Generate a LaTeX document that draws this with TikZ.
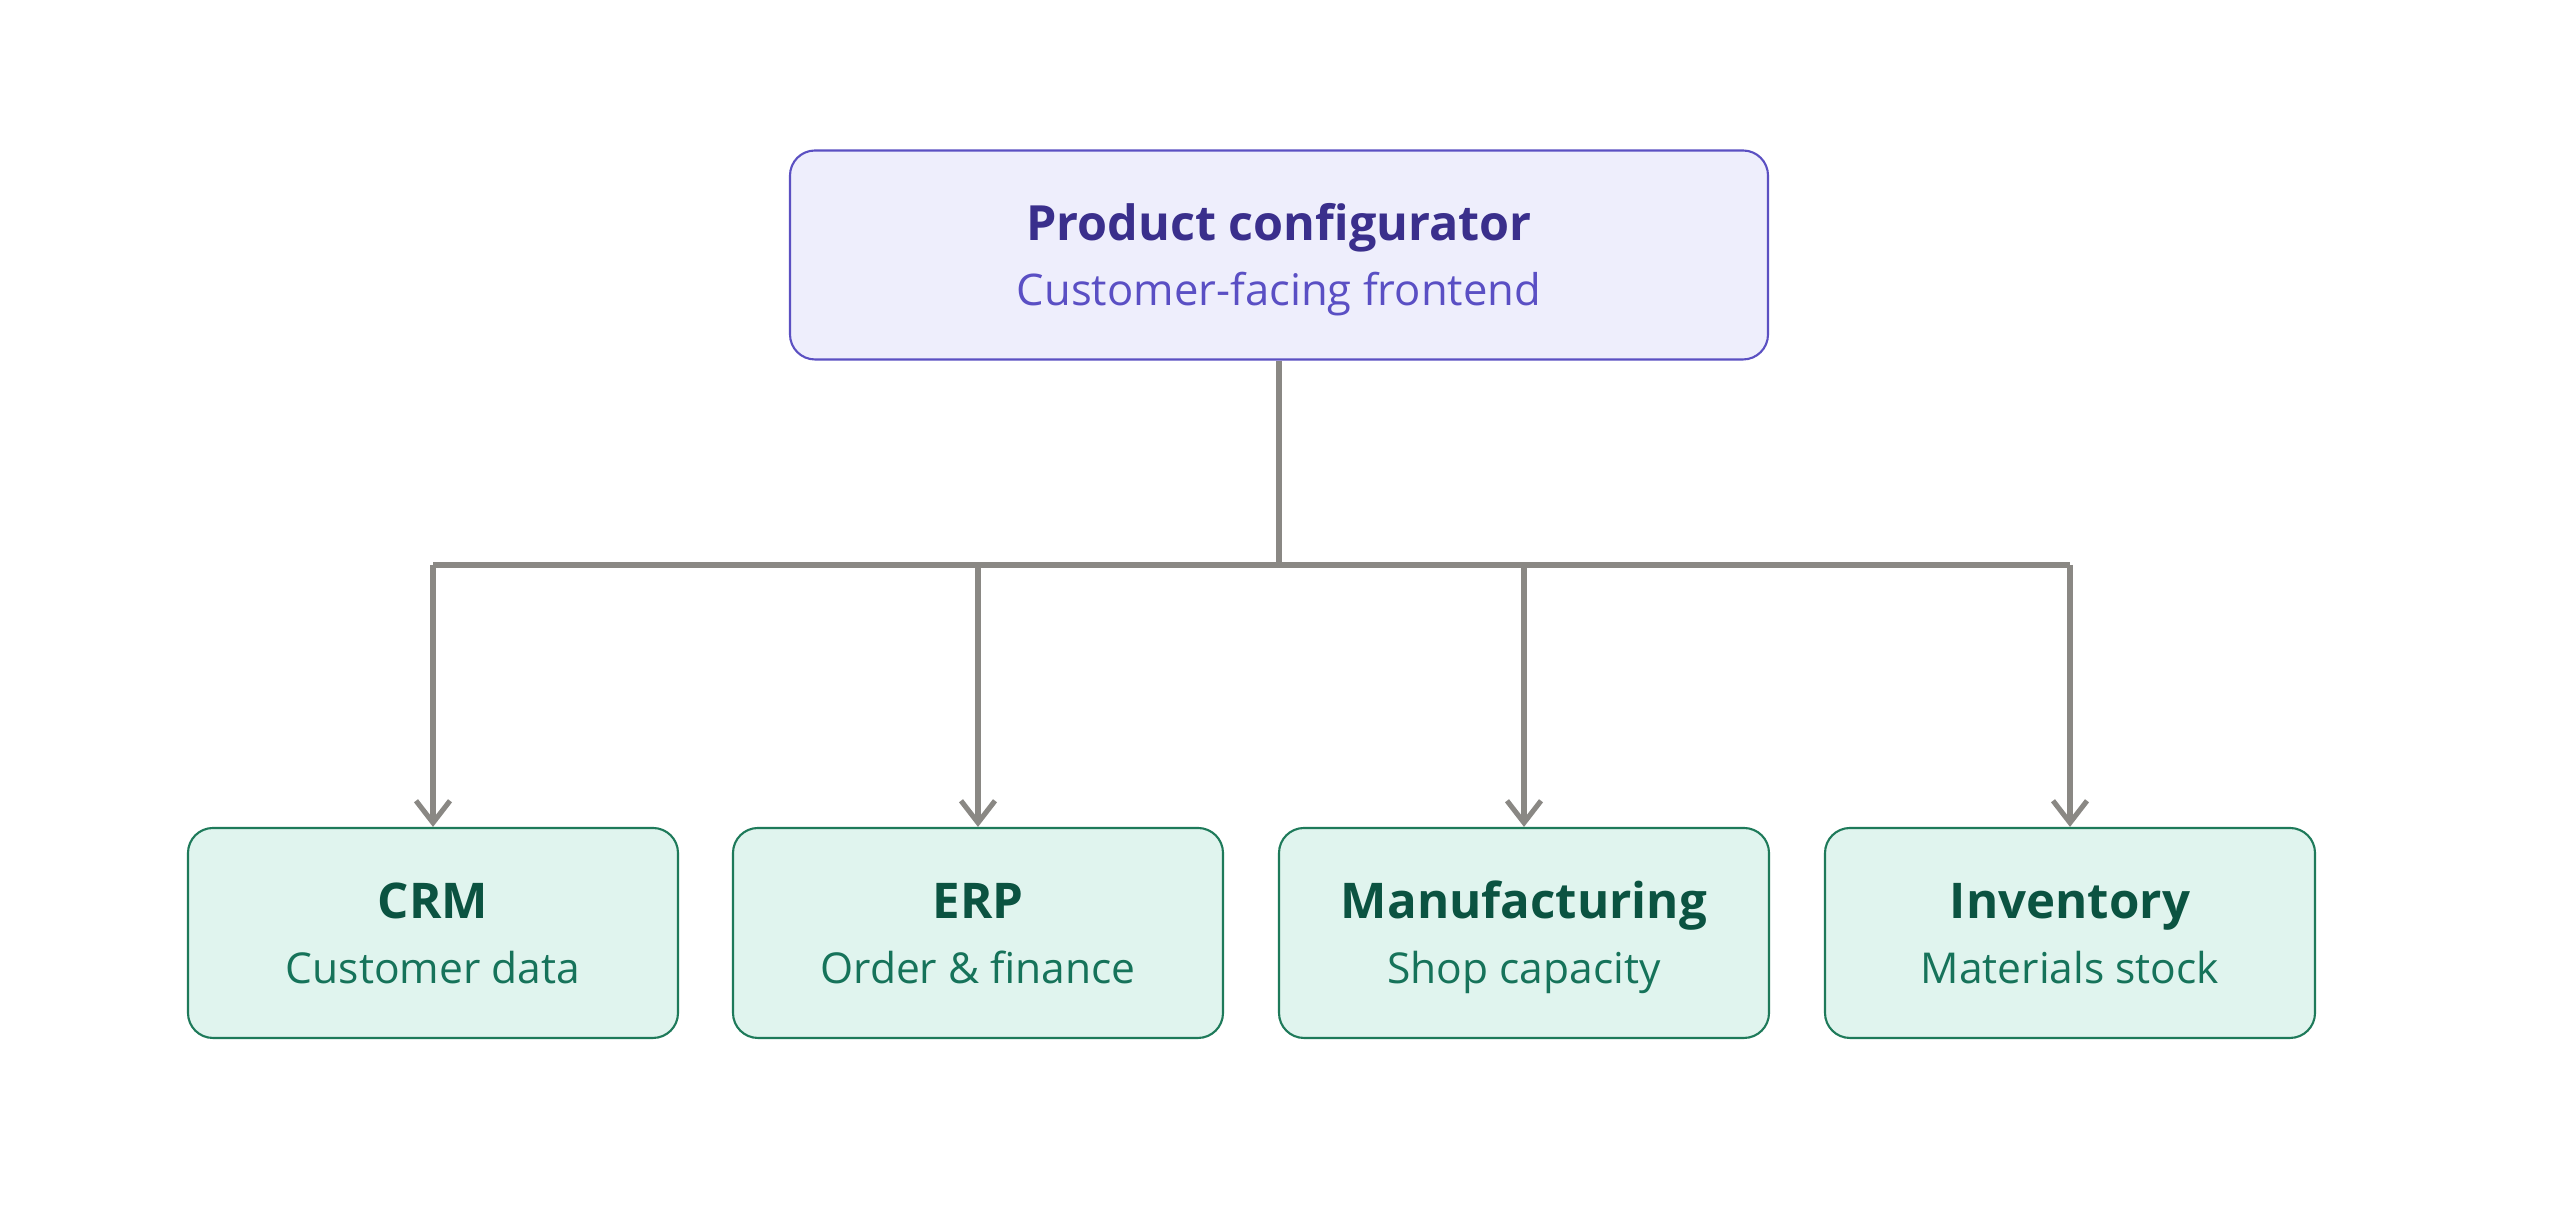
\documentclass[tikz,border=0pt]{standalone}
\usepackage{fontspec}
\setmainfont{Open Sans}
\usepackage{xcolor}
\definecolor{hubFill}{HTML}{EEEEFC}
\definecolor{hubDraw}{HTML}{5B50C2}
\definecolor{hubTitle}{HTML}{3A2F8C}
\definecolor{hubSub}{HTML}{5A4FC4}
\definecolor{sysFill}{HTML}{E0F4EE}
\definecolor{sysDraw}{HTML}{1E7A5A}
\definecolor{sysTitle}{HTML}{0B5341}
\definecolor{sysSub}{HTML}{16735A}
\definecolor{linkGray}{HTML}{8A8884}
\usetikzlibrary{arrows.meta}
\newcommand{\topstrut}{\rule{0pt}{15.8pt}}

\tikzset{
  hubbox/.style={draw=hubDraw, fill=hubFill, line width=0.6pt, rounded corners=0.25cm,
    minimum width=9.78cm, minimum height=2.09cm, align=center, text=hubSub,
    font=\fontsize{12.4}{18.5}\selectfont},
  sysbox/.style={draw=sysDraw, fill=sysFill, line width=0.6pt, rounded corners=0.25cm,
    minimum width=4.9cm, minimum height=2.1cm, align=center, text=sysSub,
    font=\fontsize{12.1}{18.5}\selectfont},
  feed/.style={draw=linkGray, line width=1.45pt},
  feedarrow/.style={feed, -{Straight Barb[length=0.22cm, width=0.34cm, line width=1.45pt]}},
}

\begin{document}
\begin{tikzpicture}
  \useasboundingbox (0,0) rectangle (25.6cm,12.05cm);
  \node[hubbox] (config) at (12.79cm,9.50cm) {{\fontsize{13.8}{18.5}\selectfont\bfseries\color{hubTitle}\topstrut Product configurator}\\\strut Customer-facing frontend};
  \node[sysbox] (crm) at (4.33cm,2.72cm) {{\fontsize{14}{18.5}\selectfont\bfseries\color{sysTitle}\topstrut CRM}\\\strut Customer data};
  \node[sysbox] (erp) at (9.78cm,2.72cm) {{\fontsize{14}{18.5}\selectfont\bfseries\color{sysTitle}\topstrut ERP}\\\strut Order \& finance};
  \node[sysbox] (mfg) at (15.24cm,2.72cm) {{\fontsize{14}{18.5}\selectfont\bfseries\color{sysTitle}\topstrut Manufacturing}\\\strut Shop capacity};
  \node[sysbox] (inv) at (20.70cm,2.72cm) {{\fontsize{14}{18.5}\selectfont\bfseries\color{sysTitle}\topstrut Inventory}\\\strut Materials stock};
  \coordinate (hub) at (12.79cm,6.40cm);
  \coordinate (barL) at (crm |- hub);
  \coordinate (barR) at (inv |- hub);
  \draw[feed] (config.south) -- (hub);
  \draw[feed] (barL) -- (barR);
  \foreach \sys in {crm, erp, mfg, inv}
    \draw[feedarrow] (\sys |- hub) -- (\sys.north);
\end{tikzpicture}
\end{document}
